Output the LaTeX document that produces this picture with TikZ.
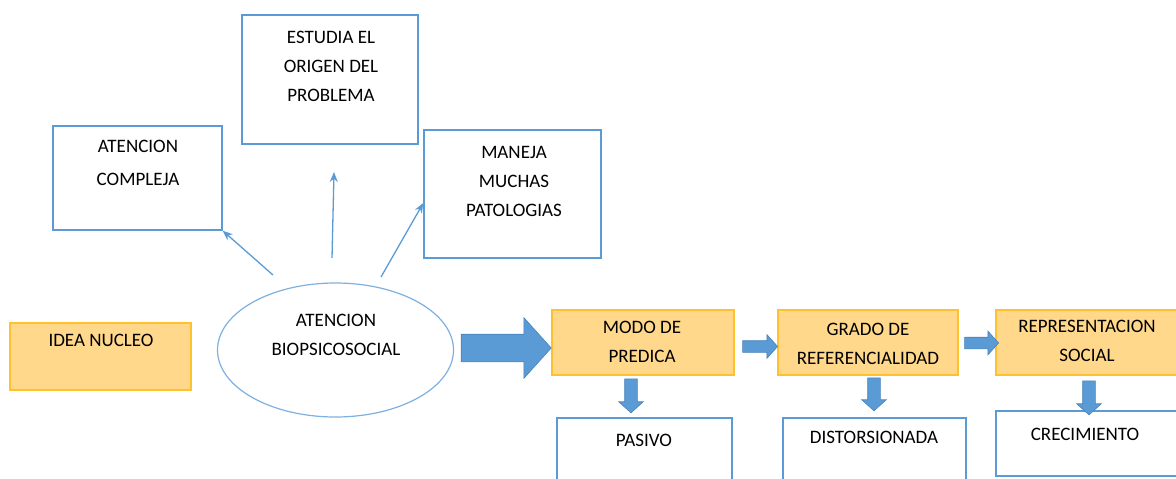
\documentclass[tikz,border=0pt]{standalone}
\usepackage{fontspec}
\setmainfont{Carlito}
\usetikzlibrary{shapes.geometric,shapes.arrows,arrows.meta}
\definecolor{bbox}{HTML}{5B9BD5}
\definecolor{ofill}{HTML}{FFD88C}
\definecolor{oline}{HTML}{FFC12E}
\definecolor{afill}{HTML}{5B9BD5}
\definecolor{aline}{HTML}{4A82B8}
\definecolor{ell}{HTML}{7EB0DF}
\tikzset{
  bluebox/.style={draw=bbox,line width=1.4pt,fill=white,rectangle,inner sep=0pt},
  orangebox/.style={draw=oline,fill=ofill,line width=1.4pt,rectangle,inner sep=0pt},
  txt/.style={font=\fontsize{19}{29}\selectfont,align=center,inner sep=0pt,anchor=north,text=black},
  thin arrow/.style={draw=bbox,line width=1.3pt,-{Stealth[length=10pt,width=8pt]}},
  blockarrow/.style={single arrow,fill=afill,draw=aline,line width=0.6pt,inner xsep=0pt,single arrow tip angle=96},
}
\begin{document}
\begin{tikzpicture}[x=1pt,y=-1pt]
\useasboundingbox (0,0) rectangle (1176,479);
% top boxes
\node[bluebox,minimum width=169pt,minimum height=104pt] (comp) at (137.5,178) {};
\node[txt] (compt) at (138,140) {ATENCION\\[4pt]COMPLEJA};
\node[bluebox,minimum width=176pt,minimum height=129pt] (orig) at (330,79.5) {};
\node[txt] (origt) at (331,31) {ESTUDIA EL\\ORIGEN DEL\\PROBLEMA};
\node[bluebox,minimum width=177pt,minimum height=128pt] (pat) at (512.5,194) {};
\node[txt] (patt) at (514,146) {MANEJA\\MUCHAS\\PATOLOGIAS};
% ellipse
\node[ellipse,draw=ell,line width=1.2pt,minimum width=236pt,minimum height=134pt,inner sep=0pt] (bio) at (335.5,350) {};
\node[txt] (biot) at (336,314) {ATENCION\\BIOPSICOSOCIAL};
% thin arrows
\coordinate (s1) at (273,275);
\coordinate (s2) at (332,258);
\coordinate (s3) at (381,277);
\draw[thin arrow] (s1) -- (comp.south east);
\draw[thin arrow] (s2) -- (334,172) coordinate (e2);
\draw[thin arrow] (s3) -- (pat.west |- 0,203);
% idea nucleo
\node[orangebox,minimum width=181pt,minimum height=67pt] (idea) at (100.5,356.5) {};
\node[txt] (ideat) at (101,334) {IDEA NUCLEO};
% orange row
\node[orangebox,minimum width=182pt,minimum height=65pt] (modo) at (643,342.5) {};
\node[txt] (modot) at (642,321) {MODO DE\\PREDICA};
\node[orangebox,minimum width=180pt,minimum height=65pt] (grado) at (868,342.5) {};
\node[txt] (gradot) at (868,323) {GRADO DE\\REFERENCIALIDAD};
\node[orangebox,minimum width=184pt,minimum height=65pt] (rep) at (1088,342.5) {};
\node[txt] (rept) at (1087,320) {REPRESENTACION\\SOCIAL};
% bottom boxes
\node[bluebox,minimum width=175pt,minimum height=80pt] (pas) at (644.5,458) {};
\node[txt] (past) at (644,434) {PASIVO};
\node[bluebox,minimum width=183pt,minimum height=80pt] (dis) at (874.5,458) {};
\node[txt] (dist) at (874,431) {DISTORSIONADA};
\node[bluebox,minimum width=182pt,minimum height=65pt] (cre) at (1087,443.5) {};
\node[txt] (cret) at (1085,428) {CRECIMIENTO};
% block arrows
\node[blockarrow,minimum height=90pt,inner ysep=13.5pt,single arrow head extend=16.5pt] (big) at (500,348) {};
\node[blockarrow,minimum height=35pt,inner ysep=5.5pt,single arrow head extend=6pt] (a1) at (757.5,346.5) {};
\node[blockarrow,minimum height=34pt,inner ysep=5.5pt,single arrow head extend=6pt] (a2) at (979,343) {};
\node[blockarrow,minimum height=34pt,inner ysep=6pt,single arrow head extend=6pt,rotate=-90] (d1) at (631,393) {};
\node[blockarrow,minimum height=33pt,inner ysep=6pt,single arrow head extend=6pt,rotate=-90] (d2) at (874,391.5) {};
\node[blockarrow,minimum height=34pt,inner ysep=6pt,single arrow head extend=6pt,rotate=-90] (d3) at (1089,395) {};
\end{tikzpicture}
\end{document}
